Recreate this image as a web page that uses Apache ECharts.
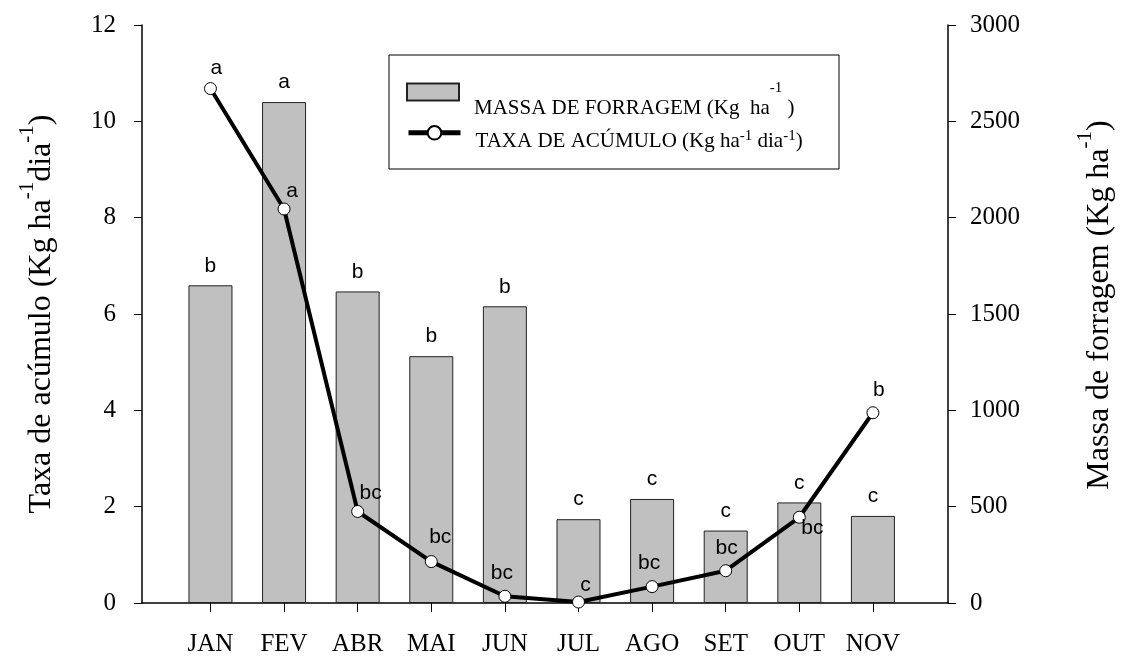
<!DOCTYPE html>
<html>
<head>
<meta charset="utf-8">
<script src="https://cdn.jsdelivr.net/npm/echarts@6/dist/echarts.min.js"></script>
<style>
    html, body { margin: 0; padding: 0; background: #fff; }
    #chart { width: 1131px; height: 657px; }
</style>
</head>
<body>
<div id="chart"></div>
<script>
// meses
var categories = ['JAN', 'FEV', 'ABR', 'MAI', 'JUN', 'JUL', 'AGO', 'SET', 'OUT', 'NOV'];
// massa de forragem (Kg ha-1) - barras, eixo direito
var massa = [1649, 2600, 1617, 1281, 1540, 435, 540, 376, 522, 452];
var massaLetters = ['b', 'a', 'b', 'b', 'b', 'c', 'c', 'c', 'c', 'c'];
// taxa de acumulo (Kg ha-1 dia-1) - linha, eixo esquerdo
var taxa = [10.68, 8.18, 1.90, 0.86, 0.14, 0.02, 0.34, 0.67, 1.78, 3.95];
var taxaLetters = ['a', 'a', 'bc', 'bc', 'bc', 'c', 'bc', 'bc', 'bc', 'b'];
// ticks
var leftTicks = [0, 2, 4, 6, 8, 10, 12];
var rightTicks = [0, 500, 1000, 1500, 2000, 2500, 3000];

var serif = "'Times New Roman', 'Liberation Serif', serif";
var sans = "Arial, 'Liberation Sans', sans-serif";

// deslocamento das letras da linha (px)
var lineLabelShift = [[6, 2], [8, 4], [13, 4], [9, -2], [-3, -1], [7, 5], [-3, -1], [1, -1], [13, 33], [6, -1]];

var idx = categories.map(function (c, i) { return i; });

var barData = massa.map(function (v, i) {
    return { value: [i, v], label: { formatter: massaLetters[i] } };
});
var lineData = taxa.map(function (v, i) {
    return { value: [i, v], label: { formatter: taxaLetters[i], offset: lineLabelShift[i] } };
});

var myChart = echarts.init(document.getElementById('chart'));

var option = {
    animation: false,
    backgroundColor: '#fff',
    grid: { left: 142, right: 183, top: 25, bottom: 53, containLabel: false },
    graphic: [{
        type: 'rect',
        shape: { x: 389, y: 55, width: 450, height: 114 },
        style: { fill: 'none', stroke: '#000', lineWidth: 1 },
        z: 10
    }],
    legend: [
        {
            data: [{ name: 'MASSA DE FORRAGEM', icon: 'rect' }],
            left: 406, top: 81, padding: 0,
            itemWidth: 52, itemHeight: 17,
            formatter: function () { return '{n|MASSA DE FORRAGEM (Kg  ha}{s|-1}{n| )}'; },
            textStyle: {
                padding: [32, 0, 0, 10],
                rich: {
                    n: { fontFamily: serif, fontSize: 21, color: '#000' },
                    s: { fontFamily: serif, fontSize: 15, color: '#000', padding: [0, 0, 39, 0] }
                }
            }
        },
        {
            data: ['TAXA DE ACÚMULO'],
            left: 406, top: 125, padding: 0,
            itemWidth: 52, itemHeight: 17,
            lineStyle: { width: 5 },
            formatter: function () { return '{n|TAXA DE ACÚMULO (Kg ha}{s|-1}{n| dia}{s|-1}{n|)}'; },
            textStyle: {
                padding: [18, 0, 0, 10],
                rich: {
                    n: { fontFamily: serif, fontSize: 21, color: '#000' },
                    s: { fontFamily: serif, fontSize: 15, color: '#000', padding: [0, 0, 11, 0] }
                }
            }
        }
    ],
    xAxis: {
        type: 'value',
        min: -0.93,
        max: 10.02,
        splitLine: { show: false },
        axisLine: { show: true, onZero: false, lineStyle: { color: '#000', width: 1.5 } },
        axisTick: { show: true, inside: false, length: 9, customValues: idx, lineStyle: { color: '#000', width: 1 } },
        axisLabel: {
            customValues: idx,
            formatter: function (v) { return categories[Math.round(v)] || ''; },
            fontFamily: serif, fontSize: 25, color: '#000', margin: 29
        }
    },
    yAxis: [
        {
            type: 'value',
            position: 'left',
            min: leftTicks[0],
            max: leftTicks[leftTicks.length - 1],
            interval: leftTicks[1] - leftTicks[0],
            splitLine: { show: false },
            axisLine: { show: true, onZero: false, lineStyle: { color: '#000', width: 1.5 } },
            axisTick: { show: true, inside: false, length: 8, lineStyle: { color: '#000', width: 1 } },
            axisLabel: { fontFamily: serif, fontSize: 25, color: '#000', margin: 26 },
            name: '{n|Taxa de acúmulo (Kg ha}{s|-1}{n|dia}{s|-1}{n|)}',
            nameLocation: 'middle',
            nameRotate: 90,
            nameGap: 76,
            nameTextStyle: {
                rich: {
                    n: { fontFamily: serif, fontSize: 32, color: '#000' },
                    s: { fontFamily: serif, fontSize: 21, color: '#000', padding: [0, 0, 28, 0] }
                }
            }
        },
        {
            type: 'value',
            position: 'right',
            min: rightTicks[0],
            max: rightTicks[rightTicks.length - 1],
            interval: rightTicks[1] - rightTicks[0],
            splitLine: { show: false },
            axisLine: { show: true, onZero: false, lineStyle: { color: '#000', width: 1.5 } },
            axisTick: { show: true, inside: false, length: 8, lineStyle: { color: '#000', width: 1 } },
            axisLabel: {
                fontFamily: serif, fontSize: 25, color: '#000', margin: 22,
                formatter: function (v) { return String(v); }
            },
            name: '{n|Massa de forragem (Kg ha}{s|-1}{n|)}',
            nameLocation: 'middle',
            nameRotate: 90,
            nameGap: 127,
            nameTextStyle: {
                padding: [0, 0, 0, 18],
                rich: {
                    n: { fontFamily: serif, fontSize: 32, color: '#000' },
                    s: { fontFamily: serif, fontSize: 21, color: '#000', padding: [0, 0, 28, 0] }
                }
            }
        }
    ],
    series: [
        {
            name: 'MASSA DE FORRAGEM',
            type: 'bar',
            yAxisIndex: 1,
            barWidth: 44,
            data: barData,
            itemStyle: { color: '#c0c0c0', borderColor: '#222', borderWidth: 1 },
            label: {
                show: true, position: 'top', distance: 9,
                fontFamily: sans, fontSize: 21, color: '#000'
            },
            z: 2
        },
        {
            name: 'TAXA DE ACÚMULO',
            type: 'line',
            yAxisIndex: 0,
            data: lineData,
            symbol: 'circle',
            symbolSize: 12,
            lineStyle: { color: '#000', width: 4 },
            itemStyle: { color: '#fff', borderColor: '#000', borderWidth: 1 },
            label: {
                show: true, position: 'top', distance: 5,
                fontFamily: sans, fontSize: 21, color: '#000'
            },
            z: 5
        }
    ]
};

myChart.setOption(option);
</script>
</body>
</html>
